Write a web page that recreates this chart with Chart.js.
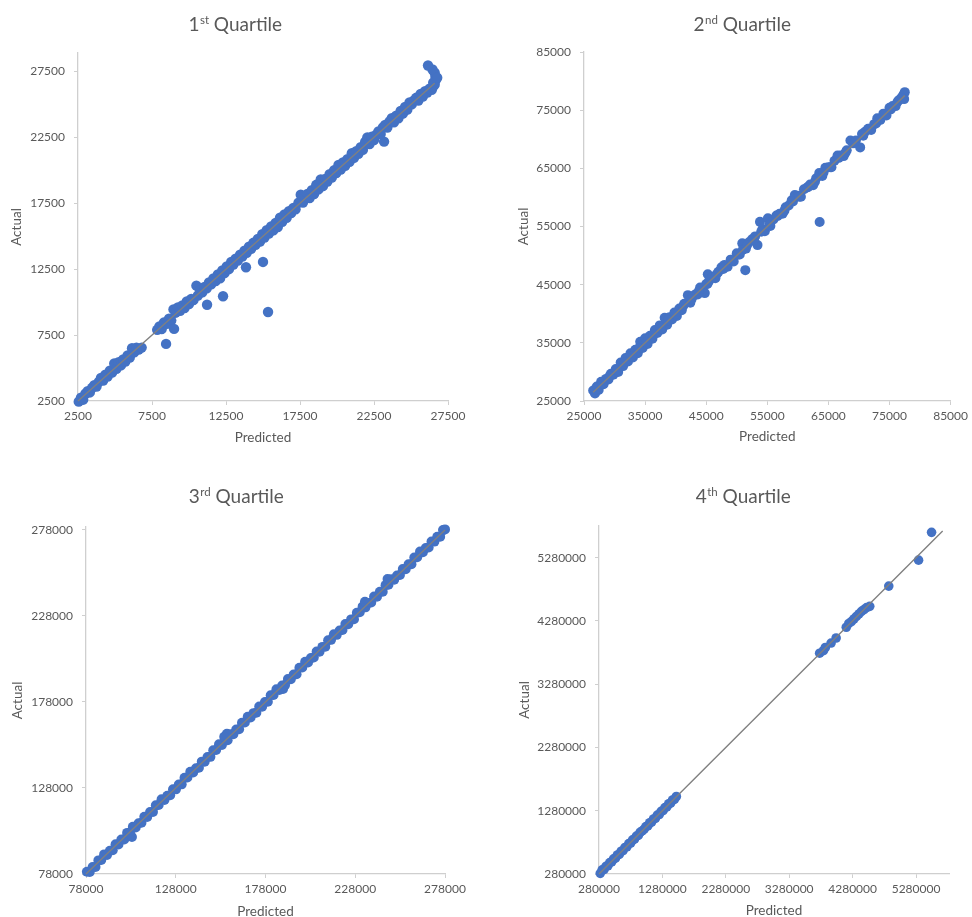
<!DOCTYPE html>
<html>
<head>
<meta charset="utf-8">
<script src="https://cdn.jsdelivr.net/npm/chart.js@4.4.1/dist/chart.umd.min.js"></script>
<style>
html,body{margin:0;padding:0;background:#fff;overflow:hidden;width:972px;height:917px;}
canvas{position:absolute;}
</style>
</head>
<body>
<canvas id="c1" width="486" height="458" style="left:0;top:0"></canvas>
<canvas id="c2" width="486" height="458" style="left:486px;top:0"></canvas>
<canvas id="c3" width="486" height="470" style="left:0;top:458px"></canvas>
<canvas id="c4" width="486" height="470" style="left:486px;top:458px"></canvas>
<script>
// ---------- titles / labels ----------
const titleNum = ['1', '2', '3', '4'];
const titleSup = ['st', 'nd', 'rd', 'th'];
const titleWord = 'Quartile';
const xAxisTitle = 'Predicted';
const yAxisTitle = 'Actual';

// ---------- tick labels ----------
const q1Ticks = [2500, 7500, 12500, 17500, 22500, 27500];
const q2Ticks = [25000, 35000, 45000, 55000, 65000, 75000, 85000];
const q3Ticks = [78000, 128000, 178000, 228000, 278000];
const q4Ticks = [280000, 1280000, 2280000, 3280000, 4280000, 5280000];

// ---------- 1st quartile ----------
const q1Predicted = [2550,2700,2850,3000,3150,3300,3450,3600,3750,3900,
4050,4200,4350,4500,4650,4800,4950,5100,5250,5400,
5550,5700,5850,6000,6150,6300,6450,6600,6800,7850,
8000,8150,8300,8450,8500,8650,8800,8950,8990,9100,
9250,9400,9550,9700,9850,10000,10150,10300,10500,10600,
10750,10900,11050,11220,11200,11350,11500,11650,11800,11950,
12100,12250,12300,12400,12550,12700,12850,13000,13150,13300,
13450,13600,13750,13850,13900,14050,14200,14350,14500,14650,
14800,14950,15000,15100,15250,15340,15400,15550,15700,15850,
16000,16150,16300,16450,16600,16750,16900,17050,17200,17400,
17550,17700,17850,18000,18150,18300,18450,18600,18750,18900,
19050,19200,19350,19500,19650,19800,19950,20100,20250,20400,
20550,20700,20850,21000,21150,21300,21450,21600,21750,21900,
22050,22200,22350,22500,22650,23180,22800,22950,23100,23250,
23400,23550,23700,23850,24000,24150,24300,24450,24600,24750,
24900,25050,25200,25350,25500,25650,25800,25950,26100,26250,
26400,26500,26600,26650,26650,26600,26450,26150,26500,26770];
const q1Actual = [2450,2750,2600,3050,3250,3150,3500,3700,3600,3950,
4250,4050,4500,4350,4800,4650,5350,4950,5450,5200,
5650,5500,5950,5800,6500,6200,6550,6400,6550,7900,
8150,7950,8450,6830,8350,8750,8600,9450,7970,9200,
9600,9350,9750,9550,10050,9850,10250,10150,11250,10500,
10900,10750,11150,9800,11050,11500,11350,11800,11600,12100,
11800,12400,10450,12200,12700,12500,13050,12850,13300,13150,
13600,13450,13900,12650,13750,14200,14050,14500,14350,14800,
14600,15150,13050,14900,15450,9250,15200,15750,15450,16000,
15700,16400,16100,16650,16400,16900,16750,17150,17050,17550,
18150,17550,17950,18200,17900,18500,18200,18900,18550,19300,
18800,19350,19150,19700,19450,20000,19800,20400,20050,20600,
20350,20850,20650,21300,20950,21450,21250,21750,21550,22150,
22500,22000,22550,22300,22700,22180,22950,22750,23250,23450,
23250,23700,23950,23650,24150,23950,24500,24300,24800,24600,
25150,25000,25300,25500,25300,25800,25600,26000,25900,26200,
26100,26350,26500,26800,27100,27400,27650,27950,26650,27020];
const q1TrendX = [2500, 26600];
const q1TrendY = [2500, 26600];

// ---------- 2nd quartile ----------
const q2Predicted = [26500,26800,27100,27400,27800,28200,28600,29000,29400,29800,
30200,30600,31000,31400,31800,32200,32600,33000,33400,33800,
34200,34600,35000,35400,35800,36200,36600,37000,37400,37800,
38200,38600,39000,39400,39800,40200,40600,41000,41400,42000,
42400,42800,43200,43600,44000,44770,45260,45000,45500,46000,
46500,47000,47500,48000,48500,49000,49500,50000,50500,50900,
51000,51400,51500,52000,52500,53000,53400,53800,54200,54600,
55100,55500,56000,56500,57000,57500,58000,58500,59000,59500,
60000,60500,61000,61500,62000,62500,63000,63570,63500,64000,
64500,65000,65500,66000,66500,67000,67500,68000,68600,69000,
69500,70200,70500,71000,71500,72000,72500,73000,73500,74000,
74500,75000,75500,76000,76500,77000,77300,77500,77400,
26900,28000,29200,30400,31600,32800,34000,35200,36400,37600,
38800,40000,41200,42600,43800,45200,46700,47800,49200,50300,
51700,52800,54000,55300,56700,57800,59200,60200,61700,62800,
64200,65300,66700,67800,69200,70700,71700,72800,74300,75200,
76300,77100];
const q2Actual = [26800,26300,27500,26900,28300,27900,28800,28700,29700,29500,
30500,30000,31600,31000,32400,31800,33200,32500,33800,33200,
35200,34100,35800,34800,36200,35700,37200,36700,38000,37300,
39300,38100,39400,39000,40200,39600,40900,40600,41700,43200,
41900,43000,43300,43300,44500,43550,46800,45100,45700,46300,
46100,47200,48000,48400,48100,49300,49000,50400,50200,52100,
51000,47500,51200,52300,52800,53300,51800,55800,54500,54200,
56400,55100,56200,56900,57200,57200,58300,58600,59500,60400,
60300,60100,61400,61700,62200,62100,63300,55760,64200,63700,
65100,65200,65200,66300,67200,67200,67100,68100,69800,69300,
69800,68600,70900,71300,71800,71600,72600,73600,73300,74400,
74100,75400,75700,75700,76700,77200,77700,78100,76900,
27000,27900,29300,30300,31700,32700,34100,35100,36500,37500,
38900,39900,41300,42500,43900,45100,46800,47700,49300,50200,
51800,52700,54100,55200,56800,57700,59300,60100,61800,62700,
64300,65200,66800,67700,69300,70600,71800,72700,74400,75100,
76400,77000];
const q2TrendX = [26500, 77500];
const q2TrendY = [26500, 77500];

// ---------- 3rd quartile ----------
const q3Predicted = [78500,80100,81700,83300,84900,86500,88100,89700,91300,92900,
94500,96100,97700,99300,100900,102500,104100,105700,107300,108900,
110500,112100,113700,115300,116900,118500,120100,121700,123300,124900,
126500,128100,129700,131300,132900,134500,136100,137700,139300,140900,
142500,144100,145700,147300,148900,150500,152100,153700,155300,156900,
158500,160100,161700,163300,164900,166500,168100,169700,171300,172900,
174500,176100,177700,179300,180900,182500,184100,185700,187300,188900,
190500,192100,193700,195300,196900,198500,200100,201700,203300,204900,
206500,208100,209700,211300,212900,214500,216100,217700,219300,220900,
222500,224100,225700,227300,228900,230500,232100,233700,235300,236900,
238500,240100,241700,243300,244900,246500,248100,249700,251300,252900,
254500,256100,257700,259300,260900,262500,264100,265700,267300,268900,
270500,272100,273700,275300,276900,278000,
103600,156500,187800,246000,233400,155000];
const q3Actual = [79300,79200,82000,82100,85900,86100,89400,89000,91500,91800,
95300,95200,98000,98100,101900,102100,105400,105000,107500,107800,
111300,111200,114000,114100,117900,118100,121400,121000,123500,123800,
127300,127200,130000,130100,133900,134100,137400,137000,139500,139800,
143300,143200,146000,146100,149900,150100,153400,153000,155500,155800,
159300,159200,162000,162100,165900,166100,169400,169000,171500,171800,
175300,175200,178000,178100,181900,182100,185400,185000,187500,187800,
191300,191200,194000,194100,197900,198100,201400,201000,203500,203800,
207300,207200,210000,210100,213900,214100,217400,217000,219500,219800,
223300,223200,226000,226100,229900,230100,233400,233000,235500,235800,
239300,239200,242000,242100,245900,246100,249400,249000,251500,251800,
255300,255200,258000,258100,261900,262100,265400,265000,267500,267800,
271300,271200,274000,274100,277900,278300,
99500,159500,185500,249500,236300,157800];
const q3TrendX = [78000, 278000];
const q3TrendY = [78000, 278000];

// ---------- 4th quartile ----------
const q4Predicted = [300000,330000,360000,390000,420000,450000,480000,510000,540000,570000,
600000,630000,660000,690000,720000,750000,780000,810000,840000,870000,
900000,930000,960000,990000,1020000,1050000,1080000,1110000,1140000,1170000,
1200000,1230000,1260000,1290000,1320000,1350000,1380000,1410000,1440000,1470000,
1500000,3760000,3820000,3850000,3940000,4020000,4180000,4220000,4260000,4300000,
4340000,4380000,4420000,4460000,4500000,4550000,4850000,5320000,5525000];
const q4Actual = [290000,345000,350000,400000,410000,460000,470000,520000,530000,580000,
590000,640000,650000,700000,710000,760000,770000,820000,830000,880000,
890000,940000,960000,985000,1030000,1040000,1090000,1100000,1150000,1160000,
1210000,1220000,1270000,1280000,1330000,1340000,1390000,1400000,1450000,1460000,
1505000,3770000,3810000,3860000,3930000,4010000,4180000,4240000,4270000,4310000,
4350000,4390000,4430000,4460000,4490000,4510000,4830000,5240000,5680000];
const q4TrendX = [280000, 5700000];
const q4TrendY = [280000, 5700000];

// ---------- styling ----------
const TEXT = '#595959';
const AXIS = '#cfcfcf';
const POINT = '#4472C4';
const TREND = '#808080';
Chart.defaults.font.family = 'Lato';

const supTitlePlugin = {
  id: 'supTitle',
  afterDraw(chart, args, o) {
    const ctx = chart.ctx;
    ctx.save();
    ctx.fillStyle = TEXT;
    ctx.textBaseline = 'alphabetic';
    ctx.textAlign = 'left';
    const big = '19px Lato', small = '11.5px Lato';
    ctx.font = big;
    const w1 = ctx.measureText(o.num).width;
    const w3 = ctx.measureText(' ' + o.word).width;
    ctx.font = small;
    const w2 = ctx.measureText(o.sup).width;
    let x = o.cx - (w1 + w2 + w3) / 2;
    ctx.font = big; ctx.fillText(o.num, x, o.baseline); x += w1;
    ctx.font = small; ctx.fillText(o.sup, x + 0.5, o.baseline - 7.5); x += w2 + 0.5;
    ctx.font = big; ctx.fillText(' ' + o.word, x, o.baseline);
    ctx.restore();
  }
};

function pairs(xs, ys) {
  if (xs.length !== ys.length) throw new Error('length mismatch ' + xs.length + ' vs ' + ys.length);
  return xs.map((x, i) => ({x: x, y: ys[i]}));
}

function axis(min, max, ticks, title, fixedSize, isX) {
  return {
    type: 'linear',
    min: min, max: max,
    afterBuildTicks: s => { s.ticks = ticks.map(v => ({value: v})); },
    afterFit: s => { if (isX) s.height = fixedSize; else s.width = fixedSize; },
    grid: {drawOnChartArea: false, drawTicks: true, tickLength: 4, color: AXIS, lineWidth: 1},
    border: {display: true, color: AXIS, width: 1.3},
    ticks: {color: TEXT, font: {family: 'Lato', size: 12}, padding: isX ? 4 : 9,
            autoSkip: false, maxRotation: 0, minRotation: 0, callback: v => String(v)},
    title: {display: true, text: title, color: TEXT, font: {family: 'Lato', size: 13.5}, padding: 0}
  };
}

const panels = [
  {id: 'c1', px: q1Predicted, ay: q1Actual, tx: q1TrendX, ty: q1TrendY,
   xr: [2500, 27500], yr: [2500, 28900], xt: q1Ticks, yt: q1Ticks, r: 5.2,
   pad: {left: 9, right: 38, top: 53, bottom: 12}, yw: 69, xh: 45, cx: 235, by: 31, k: 0},
  {id: 'c2', px: q2Predicted, ay: q2Actual, tx: q2TrendX, ty: q2TrendY,
   xr: [25000, 85000], yr: [25000, 85000], xt: q2Ticks, yt: q2Ticks, r: 5,
   pad: {left: 30, right: 18, top: 52, bottom: 13}, yw: 68, xh: 44, cx: 256, by: 31, k: 1},
  {id: 'c3', px: q3Predicted, ay: q3Actual, tx: q3TrendX, ty: q3TrendY,
   xr: [78000, 278000], yr: [78000, 279700], xt: q3Ticks, yt: q3Ticks, r: 5,
   pad: {left: 10, right: 41, top: 69, bottom: 8}, yw: 76, xh: 46, cx: 236, by: 45, k: 2},
  {id: 'c4', px: q4Predicted, ay: q4Actual, tx: q4TrendX, ty: q4TrendY,
   xr: [280000, 5800000], yr: [280000, 5780000], xt: q4Ticks, yt: q4Ticks, r: 4.8,
   pad: {left: 31, right: 23, top: 68, bottom: 9}, yw: 82, xh: 45, cx: 257, by: 45, k: 3}
];

panels.forEach(p => {
  new Chart(document.getElementById(p.id), {
    type: 'scatter',
    data: {
      datasets: [
        {type: 'line', label: 'Trend', data: pairs(p.tx, p.ty), showLine: true,
         borderColor: TREND, borderWidth: 1.4, pointRadius: 0, fill: false, order: 0, clip: false},
        {type: 'scatter', label: 'Actual vs Predicted', data: pairs(p.px, p.ay),
         backgroundColor: POINT, borderColor: POINT, borderWidth: 0, pointRadius: p.r,
         order: 1, clip: false}
      ]
    },
    options: {
      responsive: false,
      animation: false,
      devicePixelRatio: 1,
      layout: {padding: p.pad},
      plugins: {
        legend: {display: false},
        tooltip: {enabled: false},
        title: {display: false},
        supTitle: {num: titleNum[p.k], sup: titleSup[p.k], word: titleWord, cx: p.cx, baseline: p.by}
      },
      scales: {
        x: axis(p.xr[0], p.xr[1], p.xt, xAxisTitle, p.xh, true),
        y: axis(p.yr[0], p.yr[1], p.yt, yAxisTitle, p.yw, false)
      }
    },
    plugins: [supTitlePlugin]
  });
});
</script>
</body>
</html>
